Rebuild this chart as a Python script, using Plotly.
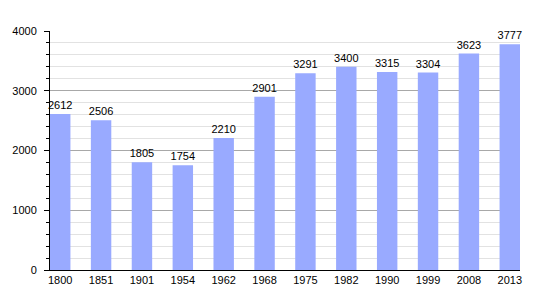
import plotly.graph_objects as go

years = ["1800", "1851", "1901", "1954", "1962", "1968", "1975", "1982", "1990", "1999", "2008", "2013"]
population = [2612, 2506, 1805, 1754, 2210, 2901, 3291, 3400, 3315, 3304, 3623, 3777]
y_ticks = [0, 1000, 2000, 3000, 4000]

fig = go.Figure(
    go.Bar(
        x=list(range(len(years))),
        y=population,
        width=0.5,
        marker=dict(color="#99AAFF", line=dict(width=0)),
        text=[str(v) for v in population],
        textposition="outside",
        textangle=0,
        constraintext="none",
        textfont=dict(family="Liberation Sans, Arial, sans-serif", size=11, color="#000000"),
        cliponaxis=False,
    )
)

fig.update_layout(
    width=550,
    height=300,
    margin=dict(l=50, r=30, t=31, b=30),
    paper_bgcolor="white",
    plot_bgcolor="white",
    showlegend=False,
    font=dict(family="Liberation Sans, Arial, sans-serif", size=11, color="#000000"),
    xaxis=dict(
        range=[-0.25, len(years) - 0.75],
        tickmode="array",
        tickvals=list(range(len(years))),
        ticktext=years,
        showgrid=False,
        showline=True,
        linecolor="#000000",
        linewidth=1,
        ticks="",
        zeroline=False,
        fixedrange=True,
    ),
    yaxis=dict(
        range=[0, 4000],
        tickmode="array",
        tickvals=y_ticks,
        showgrid=True,
        gridcolor="#A8A8A8",
        gridwidth=1,
        showline=True,
        linecolor="#000000",
        linewidth=1,
        ticks="outside",
        ticklen=5,
        tickcolor="#000000",
        ticklabelstandoff=5,
        zeroline=False,
        minor=dict(
            dtick=200,
            showgrid=True,
            gridcolor="#E2E2E2",
            gridwidth=1,
            ticks="outside",
            ticklen=3,
            tickcolor="#000000",
        ),
        fixedrange=True,
    ),
    bargap=0.5,
)

fig.write_html("out.html")
